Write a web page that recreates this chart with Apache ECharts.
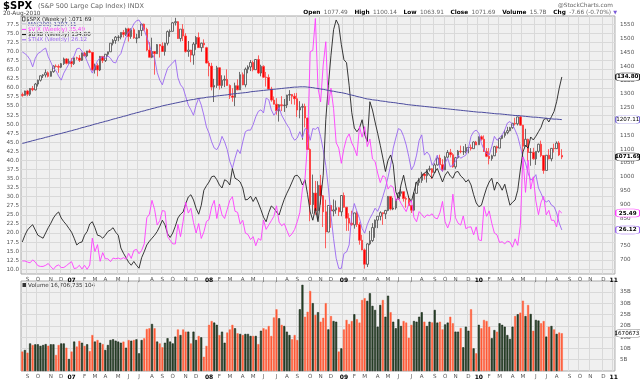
<!DOCTYPE html>
<html><head><meta charset="utf-8">
<script src="https://cdn.jsdelivr.net/npm/echarts@6/dist/echarts.min.js"></script>
<style>html,body{margin:0;padding:0;background:#fff}#c{width:640px;height:380px}</style>
</head><body><div id="c"></div>
<script>
// ---------- DATA ----------
// weekly SPX candles: [open, close, low, high]
const spx = [
[1298,1295,1290,1305],[1295,1311,1294,1312],[1311,1299,1292,1315],[1299,1320,1293,1321],[1320,1315,1310,1329],[1315,1336,1313,1340],[1336,1350,1327,1352],[1350,1366,1345,1367],[1366,1369,1358,1372],[1369,1377,1360,1389],[1377,1364,1360,1382],[1364,1381,1363,1384],[1381,1401,1377,1404],[1401,1400,1396,1407],[1400,1397,1377,1407],[1397,1410,1394,1412],[1410,1427,1405,1432],[1427,1411,1407,1430],[1411,1418,1410,1428],
[1418,1410,1397,1430],[1410,1431,1405,1432],[1431,1430,1424,1435],[1430,1422,1416,1441],[1422,1448,1420,1450],[1448,1438,1437,1453],[1438,1456,1433,1456],[1456,1451,1448,1462],[1451,1387,1385,1452],[1387,1403,1374,1410],[1403,1387,1364,1411],[1387,1436,1383,1438],[1436,1421,1412,1438],[1421,1444,1416,1445],[1444,1453,1436,1453],[1453,1484,1452,1484],[1484,1494,1476,1499],[1494,1506,1482,1510],[1505,1506,1491,1513],[1506,1523,1498,1523],[1523,1516,1505,1532],[1516,1536,1510,1540],[1536,1508,1490,1540],[1508,1533,1500,1538],[1533,1503,1500,1540],[1502,1503,1484,1518],[1503,1530,1503,1532],[1530,1553,1510,1555],[1553,1534,1529,1555],[1534,1459,1455,1540],[1459,1433,1433,1488],[1433,1454,1430,1504],[1454,1446,1370,1456],[1446,1479,1445,1481],[1479,1474,1432,1481],[1474,1454,1453,1487],[1454,1484,1439,1486],[1484,1526,1476,1530],[1526,1527,1507,1534],[1527,1558,1527,1561],[1558,1562,1548,1576],[1562,1501,1500,1564],[1501,1535,1490,1535],[1535,1510,1492,1553],[1510,1454,1450,1520],[1454,1459,1435,1492],[1459,1441,1415,1460],[1441,1481,1406,1488],[1481,1505,1460,1510],[1505,1468,1467,1523],[1468,1484,1453,1486],[1484,1478,1467,1498],
[1468,1412,1411,1471],[1412,1401,1364,1420],[1401,1325,1313,1413],[1325,1331,1271,1355],[1331,1395,1322,1402],[1395,1331,1316,1396],[1331,1350,1321,1368],[1350,1353,1325,1367],[1353,1331,1330,1389],[1331,1293,1282,1335],[1293,1288,1272,1321],[1288,1330,1256,1341],[1330,1315,1314,1353],[1315,1370,1315,1380],[1370,1333,1332,1378],[1333,1390,1324,1396],[1390,1398,1375,1404],[1398,1414,1383,1423],[1414,1388,1382,1421],[1388,1425,1387,1426],[1425,1376,1373,1440],[1376,1400,1364,1406],[1400,1361,1358,1404],[1361,1360,1327,1380],[1360,1318,1316,1371],[1318,1278,1272,1326],[1278,1263,1262,1291],[1263,1239,1225,1285],[1239,1261,1200,1263],[1261,1258,1238,1292],[1258,1260,1235,1282],[1260,1296,1249,1297],[1296,1298,1275,1314],[1298,1292,1263,1300],[1292,1283,1261,1303],[1283,1242,1217,1304],[1242,1252,1212,1274],[1252,1255,1134,1265],[1255,1213,1179,1265],[1213,1099,1098,1214],[1099,899,839,1103],[899,941,866,1008],[941,877,862,985],[877,969,845,984],[969,931,899,1007],[931,873,818,934],[873,800,741,917],[800,896,799,896],[896,876,815,896],[876,880,857,918],[880,888,866,914],[888,873,858,890],
[873,932,857,934],[932,890,888,943],[890,850,804,890],[850,832,804,868],[832,826,823,877],[826,869,812,870],[869,827,818,876],[827,770,754,835],[770,735,734,790],[735,683,667,740],[683,757,673,759],[757,769,752,804],[769,816,764,832],[816,843,779,845],[843,857,814,857],[857,870,842,875],[870,866,826,871],[866,878,847,880],[878,929,875,930],[929,883,878,930],[883,887,879,924],[887,919,881,920],[919,940,919,945],[940,946,929,956],[946,921,910,946],[921,919,888,928],[919,896,895,931],[896,879,869,898],[879,940,875,943],[940,979,940,979],[979,987,968,996],[987,1010,978,1018],[1010,1004,990,1013],[1004,1026,979,1027],[1026,1029,1019,1040],[1029,1016,992,1031],[1016,1043,1016,1049],[1043,1068,1041,1074],[1068,1044,1041,1080],[1044,1025,1019,1064],[1025,1071,1025,1076],[1071,1088,1069,1097],[1088,1080,1070,1101],[1080,1036,1033,1086],[1036,1069,1029,1072],[1069,1093,1066,1097],[1093,1091,1085,1113],[1091,1091,1079,1111],[1091,1106,1085,1119],[1106,1106,1085,1108],[1106,1102,1095,1117],[1102,1126,1102,1128],[1126,1115,1115,1130],
[1116,1145,1116,1146],[1145,1136,1131,1150],[1136,1092,1090,1150],[1092,1074,1071,1104],[1074,1066,1045,1104],[1066,1076,1058,1080],[1076,1109,1075,1112],[1109,1104,1087,1113],[1104,1139,1104,1139],[1139,1150,1136,1151],[1150,1160,1142,1170],[1160,1167,1154,1181],[1167,1178,1165,1181],[1178,1194,1174,1195],[1194,1192,1186,1214],[1192,1217,1186,1218],[1217,1187,1186,1220],[1187,1111,1066,1188],[1111,1136,1111,1174],[1136,1088,1056,1138],[1088,1089,1040,1104],[1089,1065,1062,1105],[1065,1092,1043,1092],[1092,1118,1087,1120],[1118,1077,1071,1131],[1077,1023,1011,1078],[1023,1078,1023,1078],[1078,1065,1063,1100],[1065,1103,1056,1104],[1103,1102,1088,1120],[1102,1122,1101,1128],[1122,1079,1075,1129],[1077.49,1071.69,1063.91,1100.14]
];
const ma200 = [
1121,1123,1126,1128,1131,1133,1136,1138,1140,1143,1145,1148,1150,1153,1155,1157,1160,1162,1165,
1167,1170,1172,1175,1178,1180,1183,1185,1188,1191,1193,1196,1198,1201,1203,1206,1209,1211,1214,1216,1219,1221,1224,1227,1229,1232,1234,1237,1239,1242,1244,1247,1249,1252,1254,1257,1259,
1261,1263,1265,1267,1269,1271,1273,1275,1277,1279,1280,1282,1284,
1285,1286,1288,1289,1290,1291,1293,1294,1295,1296,1297,1299,1300,
1301,1302,1303,1304,1305,1306,1308,1309,1310,1311,1312,1313,1314,
1315,1316,1317,1318,1319,1320,1321,1322,1323,1324,1325,1325,1326,1326,1326,1325,
1324,1323,1321,1320,1318,1317,1315,1313,1311,1310,1308,1306,1305,1303,
1301,1298,1296,1294,1291,1289,1287,1284,1282,
1281,1279,1278,1277,1275,1274,1273,1271,1270,1269,1268,1266,1265,1264,1262,1261,1260,
1259,1258,1257,1256,1255,1254,1253,1252,1251,1250,1249,1248,1247,1246,1245,1244,1243,1242,1241,1240,1239,1238,1237,1236,
1235,1234,1234,1233,1232,1231,1230,1229,1228,1228,1227,1226,1225,1224,1223,1222,1222,1221,1220,1219,1218,1217,1216,1216,1215,1214,1213,1212,1211,1210,1209,1209,1208,1207.11
];
const vix = [
12.3,12.3,12.0,11.8,12.6,12.0,11.0,10.8,10.8,11.1,11.6,10.7,10.0,10.9,11.2,10.5,10.5,11.0,11.6,
12.1,10.2,10.4,11.1,10.1,11.1,10.0,11.2,18.6,14.9,16.8,12.2,14.6,12.9,12.9,12.1,13.1,12.9,13.1,12.8,13.2,12.8,14.4,13.0,15.2,15.5,14.3,15.2,17.0,24.2,25.2,29.0,26.5,22.2,23.4,26.2,26.0,19.0,18.0,17.0,17.0,22.4,19.0,23.2,28.5,25.5,26.8,22.9,20.0,22.6,18.5,20.3,
23.2,23.7,27.2,29.0,24.0,28.0,25.0,24.0,26.5,29.0,30.0,26.0,25.7,22.5,23.5,20.0,19.6,18.2,19.0,16.5,18.5,18.0,23.6,21.0,22.2,23.4,24.6,27.5,23.0,22.0,22.6,20.7,19.0,19.8,21.0,23.1,25.7,32.1,35.0,45.1,70.0,70.3,79.1,59.9,56.1,66.3,72.7,55.3,59.9,54.3,44.9,43.4,
39.2,43.3,46.1,47.3,44.8,43.4,41.3,49.3,46.4,49.3,43.8,45.9,40.4,39.7,36.5,33.9,35.8,35.3,32.1,33.1,32.6,28.9,29.6,28.2,27.0,25.9,28.0,29.0,24.3,23.1,25.9,25.1,24.2,25.0,24.8,25.3,24.2,23.9,25.6,28.7,23.1,21.4,23.4,30.7,24.2,22.7,22.2,24.7,21.2,21.6,21.7,19.5,21.7,
18.1,17.9,27.3,24.6,26.1,22.7,20.0,19.5,17.4,17.6,17.0,17.8,17.5,16.1,18.4,16.6,22.05,40.95,31.2,40.1,32.1,35.5,28.8,25.05,28.5,30.1,25.0,26.25,23.5,23.5,21.7,26.2,25.49
];
const usb = [
112.8,113.7,114.4,114.8,115.1,114.4,113.7,113.5,113.3,114.0,114.7,115.3,116.0,116.5,116.8,116.0,115.5,115.1,114.6,114.1,113.3,112.4,112.7,112.8,113.7,114.2,115.2,115.5,114.7,113.7,113.6,113.3,113.7,114.2,114.4,114.7,114.1,113.7,112.0,111.3,110.7,110.1,109.7,110.2,109.7,109.3,110.7,111.5,112.4,112.9,113.3,113.7,114.2,114.9,115.7,115.1,113.9,113.4,
114.0,114.9,116.0,116.5,116.8,117.9,118.8,119.1,118.4,117.3,116.5,117.7,119.7,120.3,120.8,121.5,121.6,121.1,120.4,120.0,121.1,120.9,120.4,122.6,121.3,121.1,120.8,120.0,118.4,118.5,118.9,118.2,118.8,118.0,117.1,116.1,115.5,116.7,117.6,117.3,116.8,116.4,117.5,118.5,119.3,120.0,120.8,121.6,121.7,121.3,120.4,121.1,119.1,116.8,115.7,117.3,
115.5,118.4,121.7,129.1,133.7,137.7,141.1,142.4,141.7,139.1,137.1,136.7,133.7,130.1,128.0,127.5,128.0,129.1,127.1,126.2,131.5,130.4,128.8,127.3,125.7,124.0,122.2,123.7,124.4,123.1,119.5,118.6,120.4,121.7,120.0,118.7,118.2,119.5,120.8,121.1,121.6,122.0,122.2,121.7,121.3,122.1,122.6,121.7,120.8,121.7,122.2,121.6,121.3,122.1,122.2,121.6,121.3,120.8,
121.1,120.4,119.1,118.0,117.5,117.7,118.9,120.0,120.8,121.3,119.7,120.8,120.4,119.7,120.5,119.1,117.7,118.1,118.4,119.7,122.4,124.8,125.7,125.3,126.8,126.4,126.9,127.5,128.1,129.1,129.3,128.8,129.5,130.2,131.5,133.3,134.8
];
const tnx = [
48.9,48.7,48.4,47.9,47.0,48.1,48.7,48.9,49.2,49.4,48.3,47.6,46.8,46.5,45.8,45.3,46.2,46.8,47.4,47.9,48.4,49.3,49.4,49.0,48.5,47.7,46.9,46.2,47.0,47.8,48.1,48.3,48.1,48.4,48.1,47.6,47.5,48.3,48.7,49.8,50.8,51.5,51.8,52.5,52.9,53.0,52.4,51.7,50.8,49.8,48.7,48.1,46.3,45.3,44.7,45.8,46.8,47.2,
47.5,47.9,45.6,44.7,44.3,43.2,42.1,41.5,40.8,42.1,43.0,42.1,40.8,39.3,38.5,37.4,36.6,36.4,37.0,38.1,37.4,36.4,34.9,34.0,35.3,36.4,35.9,37.4,38.7,38.9,38.9,39.6,40.6,41.3,41.5,41.1,43.0,42.8,41.5,40.8,41.3,41.8,40.8,40.2,39.6,39.1,38.1,37.6,37.9,38.7,37.9,39.1,38.9,37.6,39.1,
39.0,39.3,38.1,36.4,34.4,31.5,28.0,25.0,22.5,21.2,21.2,23.1,23.3,24.2,28.0,29.5,28.5,27.6,26.3,25.7,26.8,27.6,28.2,28.9,28.5,29.3,30.4,31.5,32.9,34.4,36.6,37.9,39.1,38.9,38.1,37.0,35.5,33.8,34.4,35.7,37.6,38.3,35.7,36.1,35.7,34.4,34.9,35.7,34.0,33.6,34.7,35.3,34.2,34.4,34.9,35.7,35.3,35.5,35.7,
36.6,38.1,38.7,38.9,38.5,37.2,36.4,35.9,35.7,36.8,38.1,37.6,37.9,38.3,38.9,39.8,40.0,39.6,38.9,38.1,36.8,35.5,34.7,33.4,32.5,32.7,33.2,31.5,30.8,30.0,29.7,29.9,29.3,29.1,28.3,27.0,26.12
];
// weekly volume, billions of shares
const volumeB = [
8.6,9.3,8.1,12.2,11.5,11.8,11.8,11.1,11.5,11.9,11.2,11.8,11.8,7.1,11.5,12.2,12.2,10.3,5.3,
8.6,13.0,10.8,13.3,12.5,11.1,11.8,8.8,15.9,13.0,13.7,12.5,11.9,9.3,11.5,13.7,14.0,13.4,13.0,12.5,13.0,10.3,13.7,13.4,13.7,14.0,7.8,13.7,14.5,18.6,18.9,20.8,18.9,13.0,12.2,10.5,12.5,14.5,13.0,12.2,15.2,18.4,15.9,18.4,17.4,17.4,12.2,17.4,13.7,15.5,14.9,6.3,
11.1,20.4,22.1,21.4,20.4,15.9,17.4,12.5,17.0,18.4,20.4,18.9,16.7,16.4,15.9,16.4,16.4,15.5,15.5,15.5,11.9,17.8,18.9,18.4,19.9,15.5,23.7,27.3,23.3,20.4,19.9,17.4,15.9,14.0,15.9,13.7,27.3,38.1,24.0,26.2,35.4,30.0,24.8,26.0,21.8,23.5,30.0,18.4,24.3,22.1,21.8,8.6,
10.0,18.4,22.6,20.8,22.1,25.1,22.9,21.4,31.4,32.2,31.0,34.4,28.8,27.0,19.6,29.2,31.4,24.0,33.3,26.0,21.8,18.9,22.9,19.9,22.1,21.4,14.7,20.4,22.1,21.8,24.0,26.0,21.8,19.9,21.8,21.5,27.0,21.4,21.8,18.4,20.6,21.4,24.0,21.1,17.4,17.4,19.0,10.5,19.6,17.8,27.3,10.0,7.8,
20.4,18.9,22.6,22.1,19.6,14.5,18.1,17.4,21.1,20.4,19.6,15.9,14.2,19.6,24.3,25.1,25.8,31.1,24.3,29.2,25.2,17.8,22.6,22.3,21.1,22.1,15.2,19.6,19.9,18.4,16.4,17.0,16.7
];
const vixTicks = [10,12.5,15,17.5,20,22.5,25,27.5,30,32.5,35,37.5,40,42.5,45,47.5,50,52.5,55,57.5,60,62.5,65,67.5,70,72.5,75,77.5];
const spxTicks = [700,750,800,850,900,950,1000,1050,1100,1150,1200,1250,1300,1350,1400,1450,1500,1550];
const volTicks = [5,10,15,20,25,30,35];
const monthLetters = ['J','F','M','A','M','J','J','A','S','O','N','D'];
const weekCount = 229; // Aug 25 2006 .. Jan 7 2011, weekly

// ---------- BUILD ----------
const categories = [];
(function(){ let t = Date.UTC(2006,7,25); for (let i=0;i<weekCount;i++){ categories.push(new Date(t).toISOString().slice(0,10)); t += 7*864e5; } })();
const isMonthTick = (v) => { const d = +v.slice(8,10); return d>=5 && d<=11; };
const fmtMonth = (v) => { const m = +v.slice(5,7); return m===1 ? '{y|'+v.slice(2,4)+'}' : monthLetters[m-1]; };
const last = (a) => a[a.length-1];
const lastCat = categories[weekCount-1];
const FONT = 'DejaVu Sans';
const GRID = '#d9d9d9';

const volData = volumeB.map((v,i)=>({value:v, itemStyle: spx[i][1] >= spx[i][0]
  ? {color:'#2e4a2e', borderColor:'#0b180b', borderWidth:0.5}
  : {color:'#ff5430', borderColor:'#ff6a48', borderWidth:0.5}}));

function tagItem(value, text, border, bold){
  return {coord:[lastCat, value], value: text,
    itemStyle:{color:'#ffffff', borderColor:border, borderWidth:0.8},
    label:{show:true, position:'inside', formatter:text, fontSize:5.6, fontFamily:FONT, fontWeight: bold?'bold':'normal', color:'#000'}};
}
function markTags(items, w){
  return {symbol:'roundRect', symbolSize:[w||24,8], symbolOffset:[(w||24)/2+2,0], silent:true, animation:false, data:items};
}

function xAxis(grid){
  return {type:'category', gridIndex:grid, data:categories, boundaryGap:true,
    axisLine:{show:false}, axisTick:{show:false},
    axisLabel:{interval:(i,v)=>isMonthTick(v), formatter:fmtMonth, fontSize:5.6, fontFamily:FONT, color:'#555', margin:3,
      rich:{y:{fontWeight:'bold', fontSize:6, fontFamily:FONT, color:'#000'}}},
    splitLine:{show:true, interval:(i,v)=>isMonthTick(v), lineStyle:{color:GRID, width:1}}};
}

const chart = echarts.init(document.getElementById('c'), null, {renderer:'canvas'});
chart.setOption({
  animation:false,
  backgroundColor:'#ffffff',
  grid:[
    {left:21, right:25, top:16, height:258, show:true, backgroundColor:'#f0f0f0', borderColor:'#a8a8a8', borderWidth:1, outerBoundsMode:'none'},
    {left:21, right:25, top:281, height:90, show:true, backgroundColor:'#f0f0f0', borderColor:'#a8a8a8', borderWidth:1, outerBoundsMode:'none'}
  ],
  xAxis:[xAxis(0), xAxis(1)],
  yAxis:[
    {type:'value', gridIndex:0, position:'left', min:8.71, max:79.79,
      axisLabel:{customValues:vixTicks, formatter:v=>v.toFixed(1), fontSize:5.6, fontFamily:FONT, color:'#555', margin:2},
      axisTick:{show:false, customValues:vixTicks}, axisLine:{show:false},
      splitLine:{show:true, lineStyle:{color:GRID, width:1}}},
    {type:'value', gridIndex:0, position:'right', min:647.8, max:1582.6,
      axisLabel:{customValues:spxTicks, formatter:v=>String(v), fontSize:5.6, fontFamily:FONT, color:'#555', margin:5},
      axisTick:{show:false, customValues:spxTicks}, axisLine:{show:false}, splitLine:{show:false}},
    {type:'value', gridIndex:0, show:false, min:108.53, max:142.93, splitLine:{show:false}},
    {type:'value', gridIndex:0, show:false, min:20.48, max:53.51, splitLine:{show:false}},
    {type:'value', gridIndex:1, position:'right', min:0, max:39.8,
      axisLabel:{customValues:volTicks, formatter:v=>v+'B', fontSize:5.6, fontFamily:FONT, color:'#555', margin:5},
      axisTick:{show:false, customValues:volTicks}, axisLine:{show:false},
      splitLine:{show:true, lineStyle:{color:GRID, width:1}}}
  ],
  series:[
    {name:'$TNX', type:'line', xAxisIndex:0, yAxisIndex:3, data:tnx, symbol:'none', lineStyle:{color:'#9a66f0', width:0.9},
      markPoint:markTags([tagItem(last(tnx), last(tnx).toFixed(2), '#9a66f0', true)])},
    {name:'$USB', type:'line', xAxisIndex:0, yAxisIndex:2, data:usb, symbol:'none', lineStyle:{color:'#222', width:0.9},
      markPoint:markTags([tagItem(last(usb), last(usb).toFixed(2), '#222', true)])},
    {name:'$VIX', type:'line', xAxisIndex:0, yAxisIndex:0, data:vix, symbol:'none', lineStyle:{color:'#ff3cff', width:0.9},
      markPoint:markTags([tagItem(last(vix), last(vix).toFixed(2), '#ff3cff', true)])},
    {name:'MA(200)', type:'line', xAxisIndex:0, yAxisIndex:1, data:ma200, symbol:'none', lineStyle:{color:'#4b4b9e', width:1},
      markPoint:markTags([tagItem(last(ma200), last(ma200).toFixed(2), '#7a6ad8', false), tagItem(last(spx)[1], last(spx)[1].toFixed(2), '#222', true)])},
    {name:'$SPX', type:'candlestick', xAxisIndex:0, yAxisIndex:1, data:spx, barWidth:2,
      itemStyle:{color:'#f4f4f4', color0:'#ff0000', borderColor:'#4a4a4a', borderColor0:'#ff3a3a', borderWidth:0.8}},
    {name:'Volume', type:'bar', xAxisIndex:1, yAxisIndex:4, data:volData, barWidth:2,
      markPoint:markTags([tagItem(last(volumeB), '16706735', '#888', false)], 26)}
  ],
  graphic:[
    {type:'text', x:3, y:6, silent:true, style:{text:'$SPX', font:'bold 10px "DejaVu Sans"', fill:'#000', verticalAlign:'middle', textVerticalAlign:'middle'}},
    {type:'text', x:38, y:6, silent:true, style:{text:'(S&P 500 Large Cap Index) INDX', font:'6.5px "DejaVu Sans"', fill:'#666', verticalAlign:'middle', textVerticalAlign:'middle'}},
    {type:'text', x:3, y:13, silent:true, style:{text:'20-Aug-2010', font:'5.8px "DejaVu Sans"', fill:'#444', verticalAlign:'middle', textVerticalAlign:'middle'}},
    {type:'text', x:613, y:5, silent:true, style:{text:'@StockCharts.com', font:'5.8px "DejaVu Sans"', fill:'#666', align:'right', textAlign:'right', verticalAlign:'middle', textVerticalAlign:'middle'}},
    {type:'text', x:611, y:12, silent:true, style:{text:'{b|Open} {v|1077.49}  {b|High} {v|1100.14}  {b|Low} {v|1063.91}  {b|Close} {v|1071.69}  {b|Volume} {v|15.7B}  {b|Chg} {v|-7.66 (-0.70%)}',
      align:'right', textAlign:'right', verticalAlign:'middle', textVerticalAlign:'middle',
      rich:{b:{font:'bold 5.8px "DejaVu Sans"', fill:'#000'}, v:{font:'5.8px "DejaVu Sans"', fill:'#666'}}}},
    {type:'text', x:617, y:12.5, silent:true, style:{text:'▼', font:'5px "DejaVu Sans"', fill:'#7a5ad8', align:'right', textAlign:'right', verticalAlign:'middle', textVerticalAlign:'middle'}},
    // legend
    {type:'rect', silent:true, shape:{x:22.5, y:17, width:2.5, height:4}, style:{fill:'#fff', stroke:'#000', lineWidth:0.6}},
    {type:'text', x:26, y:19.2, silent:true, style:{text:'$SPX (Weekly) 1071.69', font:'5.6px "DejaVu Sans"', fill:'#222', verticalAlign:'middle', textVerticalAlign:'middle'}},
    {type:'line', silent:true, shape:{x1:22, y1:24.3, x2:27, y2:24.3}, style:{stroke:'#4b4b9e', lineWidth:1}},
    {type:'text', x:28, y:24.3, silent:true, style:{text:'MA(200) 1207.11', font:'5.6px "DejaVu Sans"', fill:'#4b4b9e', verticalAlign:'middle', textVerticalAlign:'middle'}},
    {type:'line', silent:true, shape:{x1:22, y1:29.4, x2:27, y2:29.4}, style:{stroke:'#ff3cff', lineWidth:1}},
    {type:'text', x:28, y:29.4, silent:true, style:{text:'$VIX (Weekly) 25.49', font:'5.6px "DejaVu Sans"', fill:'#ff3cff', verticalAlign:'middle', textVerticalAlign:'middle'}},
    {type:'line', silent:true, shape:{x1:22, y1:34.6, x2:27, y2:34.6}, style:{stroke:'#000', lineWidth:1}},
    {type:'text', x:28, y:34.6, silent:true, style:{text:'$USB (Weekly) 134.80', font:'5.6px "DejaVu Sans"', fill:'#222', verticalAlign:'middle', textVerticalAlign:'middle'}},
    {type:'line', silent:true, shape:{x1:22, y1:39.8, x2:27, y2:39.8}, style:{stroke:'#9a66f0', lineWidth:1}},
    {type:'text', x:28, y:39.8, silent:true, style:{text:'$TNX (Weekly) 26.12', font:'5.6px "DejaVu Sans"', fill:'#9a66f0', verticalAlign:'middle', textVerticalAlign:'middle'}},
    // volume label
    {type:'rect', silent:true, shape:{x:22.5, y:283, width:4, height:4}, style:{fill:'#333'}},
    {type:'text', x:28, y:285.5, silent:true, style:{text:'Volume 16,706,735,104', font:'5.6px "DejaVu Sans"', fill:'#333', verticalAlign:'middle', textVerticalAlign:'middle'}}
  ]
});
</script>
</body></html>
